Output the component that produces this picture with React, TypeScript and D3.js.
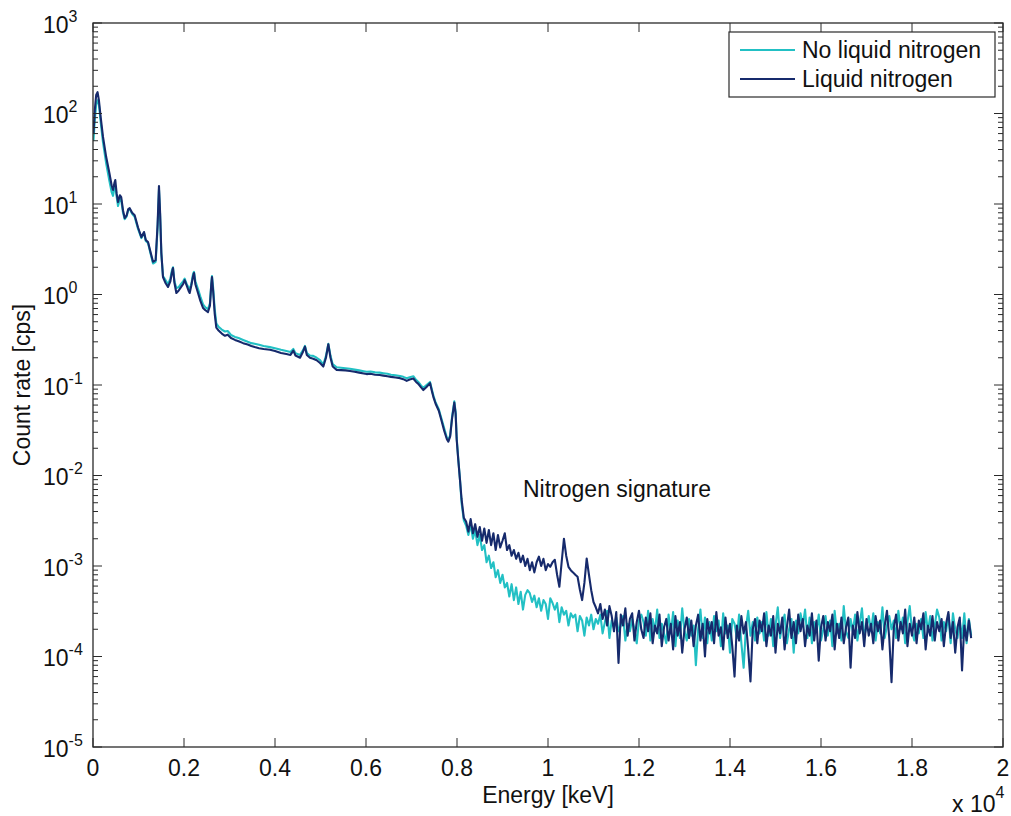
import React, { useEffect, useRef } from "react";
import * as d3 from "d3";

// energy channels [keV] shared by both spectra
const energy = [
  10, 40, 70, 100, 130, 170, 220, 290, 360, 410,
  440, 470, 490, 520, 550, 590, 620, 660, 697, 740,
  775, 806, 860, 916, 990, 1063, 1121, 1160, 1209, 1260,
  1319, 1377, 1420, 1450, 1475, 1502, 1538, 1590, 1648, 1700,
  1735, 1758, 1790, 1832, 1880, 1930, 1980, 2015, 2060, 2100,
  2125, 2160, 2200, 2220, 2250, 2308, 2360, 2418, 2470, 2527,
  2570, 2600, 2615, 2640, 2674, 2710, 2760, 2830, 2900, 2960,
  3033, 3120, 3200, 3300, 3400, 3480, 3553, 3650, 3750, 3890,
  4000, 4132, 4250, 4340, 4403, 4450, 4550, 4610, 4659, 4700,
  4769, 4840, 4916, 4990, 5062, 5120, 5172, 5220, 5268, 5355,
  5450, 5550, 5648, 5750, 5850, 5950, 6015, 6100, 6200, 6300,
  6381, 6470, 6550, 6650, 6747, 6820, 6894, 6960, 7040, 7100,
  7150, 7210, 7260, 7330, 7407, 7450, 7480, 7530, 7600, 7650,
  7720, 7780, 7810, 7850, 7890, 7941, 7970, 7993, 8030, 8066,
  8100, 8150, 8200, 8250, 8300, 8350, 8400, 8450, 8500, 8550,
  8600, 8650, 8700, 8750, 8800, 8850, 8900, 8950, 9000, 9050,
  9100, 9150, 9200, 9250, 9300, 9350, 9400, 9450, 9500, 9550,
  9600, 9650, 9700, 9750, 9800, 9850, 9900, 9950, 10000, 10050,
  10100, 10150, 10200, 10250, 10300, 10350, 10400, 10450, 10500, 10550,
  10600, 10650, 10700, 10750, 10800, 10850, 10900, 10950, 11000, 11050,
  11100, 11150, 11200, 11250, 11300, 11350, 11400, 11450, 11500, 11550,
  11600, 11650, 11700, 11750, 11800, 11850, 11900, 11950, 12000, 12050,
  12100, 12150, 12200, 12250, 12300, 12350, 12400, 12450, 12500, 12550,
  12600, 12650, 12700, 12750, 12800, 12850, 12900, 12950, 13000, 13050,
  13100, 13150, 13200, 13250, 13300, 13350, 13400, 13450, 13500, 13550,
  13600, 13650, 13700, 13750, 13800, 13850, 13900, 13950, 14000, 14050,
  14100, 14150, 14200, 14250, 14300, 14350, 14400, 14450, 14500, 14550,
  14600, 14650, 14700, 14750, 14800, 14850, 14900, 14950, 15000, 15050,
  15100, 15150, 15200, 15250, 15300, 15350, 15400, 15450, 15500, 15550,
  15600, 15650, 15700, 15750, 15800, 15850, 15900, 15950, 16000, 16050,
  16100, 16150, 16200, 16250, 16300, 16350, 16400, 16450, 16500, 16550,
  16600, 16650, 16700, 16750, 16800, 16850, 16900, 16950, 17000, 17050,
  17100, 17150, 17200, 17250, 17300, 17350, 17400, 17450, 17500, 17550,
  17600, 17650, 17700, 17750, 17800, 17850, 17900, 17950, 18000, 18050,
  18100, 18150, 18200, 18250, 18300, 18350, 18400, 18450, 18500, 18550,
  18600, 18650, 18700, 18750, 18800, 18850, 18900, 18950, 19000, 19050,
  19100, 19150, 19200, 19250, 19300,
];

// count rate [cps] without liquid nitrogen
const rateNoLN2 = [
  50, 85, 125, 140, 125, 80, 48, 28, 18, 13.5,
  12.3, 15, 16, 12, 9.5, 11.5, 11, 8, 6.8, 7.3,
  8.6, 8.8, 7.8, 7.2, 5.3, 4.2, 4.8, 3.9, 3.7, 2.9,
  2.2, 2.3, 5.5, 14.5, 7.5, 2.8, 1.6, 1.45, 1.3, 1.5,
  1.85, 2.0, 1.4, 1.18, 1.2, 1.3, 1.4, 1.5, 1.3, 1.2,
  1.15, 1.3, 1.7, 1.78, 1.4, 1.15, 0.95, 0.78, 0.72, 0.69,
  0.8, 1.3, 1.6, 1.2, 0.7, 0.48, 0.44, 0.41, 0.39, 0.395,
  0.357, 0.34, 0.33, 0.315, 0.3, 0.29, 0.285, 0.278, 0.27, 0.262,
  0.255, 0.245, 0.238, 0.232, 0.25, 0.225, 0.215, 0.24, 0.27, 0.225,
  0.212, 0.21, 0.2, 0.188, 0.168, 0.21, 0.285, 0.21, 0.17, 0.157,
  0.155, 0.153, 0.151, 0.148, 0.145, 0.142, 0.14, 0.141, 0.138, 0.137,
  0.135, 0.133, 0.13, 0.128, 0.126, 0.123, 0.119, 0.122, 0.125, 0.114,
  0.108, 0.099, 0.093, 0.1, 0.108, 0.088, 0.077, 0.064, 0.054, 0.044,
  0.033, 0.026, 0.0245, 0.028, 0.044, 0.066, 0.05, 0.026, 0.0148, 0.009,
  5.0e-3, 3.2e-3, 2.8e-3, 2.2e-3, 2.9e-3, 2.0e-3, 2.5e-3, 1.7e-3, 2.2e-3, 1.5e-3,
  1.7e-3, 1.1e-3, 1.3e-3, 9.5e-4, 1.1e-3, 7.5e-4, 9.0e-4, 6.5e-4, 8.0e-4, 5.8e-4,
  6.5e-4, 4.6e-4, 6.3e-4, 4.2e-4, 5.8e-4, 3.8e-4, 5.2e-4, 3.3e-4, 4.8e-4, 5.4e-4,
  5.0e-4, 4.0e-4, 4.7e-4, 3.5e-4, 4.4e-4, 3.2e-4, 4.2e-4, 3.8e-4, 2.6e-4, 4.4e-4,
  3.9e-4, 3.3e-4, 3.9e-4, 2.4e-4, 3.5e-4, 2.9e-4, 3.2e-4, 2.2e-4, 3.0e-4, 2.7e-4,
  2.9e-4, 1.9e-4, 2.8e-4, 2.5e-4, 1.7e-4, 2.7e-4, 2.2e-4, 2.9e-4, 2.0e-4, 2.6e-4,
  2.3e-4, 2.9e-4, 1.8e-4, 2.4e-4, 3.2e-4, 1.6e-4, 2.5e-4, 2.1e-4, 2.7e-4, 1.9e-4,
  2.2e-4, 2.8e-4, 1.5e-4, 2.3e-4, 1.9e-4, 2.6e-4, 2.0e-4, 1.4e-4, 2.5e-4, 2.9e-4,
  2.4e-4, 1.7e-4, 3.2e-4, 1.5e-4, 2.6e-4, 1.9e-4, 3.3e-4, 1.6e-4, 2.3e-4, 1.8e-4,
  1.4e-4, 2.9e-4, 1.8e-4, 3.1e-4, 1.3e-4, 2.5e-4, 1.6e-4, 3.4e-4, 1.9e-4, 1.5e-4,
  2.6e-4, 1.7e-4, 2.2e-4, 8.0e-5, 2.0e-4, 3.3e-4, 1.6e-4, 2.7e-4, 1.4e-4, 2.4e-4,
  1.5e-4, 2.8e-4, 1.9e-4, 2.5e-4, 1.3e-4, 3.0e-4, 1.8e-4, 2.2e-4, 1.1e-4, 2.6e-4,
  2.3e-4, 1.6e-4, 2.9e-4, 1.4e-4, 7.5e-5, 2.1e-4, 3.2e-4, 1.7e-4, 2.4e-4, 1.5e-4,
  2.7e-4, 1.8e-4, 2.4e-4, 1.5e-4, 3.1e-4, 1.7e-4, 2.6e-4, 1.3e-4, 2.2e-4, 3.5e-4,
  1.6e-4, 2.3e-4, 2.9e-4, 1.4e-4, 2.0e-4, 2.6e-4, 1.1e-4, 2.5e-4, 1.8e-4, 3.0e-4,
  2.2e-4, 3.3e-4, 1.6e-4, 2.7e-4, 1.4e-4, 2.4e-4, 1.9e-4, 2.9e-4, 1.5e-4, 2.0e-4,
  2.8e-4, 1.7e-4, 2.5e-4, 1.3e-4, 3.2e-4, 1.8e-4, 2.3e-4, 1.5e-4, 3.6e-4, 1.9e-4,
  1.6e-4, 2.6e-4, 1.9e-4, 2.9e-4, 1.5e-4, 2.3e-4, 3.4e-4, 1.7e-4, 2.1e-4, 2.8e-4,
  1.9e-4, 3.0e-4, 1.5e-4, 2.4e-4, 1.8e-4, 3.5e-4, 1.6e-4, 2.2e-4, 2.8e-4, 2.0e-4,
  2.5e-4, 1.6e-4, 3.2e-4, 2.0e-4, 2.7e-4, 1.4e-4, 2.4e-4, 3.6e-4, 1.9e-4, 1.5e-4,
  2.3e-4, 1.8e-4, 2.6e-4, 1.6e-4, 3.1e-4, 1.9e-4, 2.8e-4, 1.5e-4, 2.2e-4, 3.3e-4,
  2.7e-4, 1.5e-4, 2.4e-4, 1.9e-4, 2.9e-4, 1.4e-4, 3.0e-4, 2.0e-4, 1.6e-4, 2.5e-4,
  1.6e-4, 3.0e-4, 1.4e-4, 2.6e-4, 1.7e-4,
];

// count rate [cps] with liquid nitrogen
const rateLN2 = [
  60, 110, 160, 172, 140, 90, 55, 33, 22, 16,
  14.3, 17, 18.4, 13, 10.5, 12.5, 11.9, 8.5, 7.0, 7.5,
  8.8, 9.0, 8.0, 7.5, 5.5, 4.3, 4.9, 4.0, 3.8, 3.0,
  2.3, 2.4, 6, 15.8, 8, 2.9, 1.56, 1.35, 1.21, 1.4,
  1.75, 1.96, 1.35, 1.04, 1.1, 1.2, 1.3, 1.44, 1.25, 1.1,
  1.04, 1.25, 1.6, 1.73, 1.3, 1.04, 0.85, 0.71, 0.67, 0.64,
  0.75, 1.3, 1.56, 1.1, 0.62, 0.43, 0.4, 0.37, 0.35, 0.36,
  0.33, 0.315, 0.305, 0.29, 0.28, 0.27, 0.263, 0.255, 0.25, 0.245,
  0.238, 0.226, 0.22, 0.215, 0.24, 0.212, 0.2, 0.23, 0.265, 0.215,
  0.2, 0.195, 0.188, 0.175, 0.16, 0.2, 0.282, 0.2, 0.16, 0.147,
  0.146, 0.145, 0.143, 0.14, 0.137, 0.134, 0.132, 0.133, 0.13, 0.129,
  0.127, 0.125, 0.123, 0.121, 0.119, 0.116, 0.111, 0.115, 0.118, 0.108,
  0.103, 0.094, 0.088, 0.095, 0.105, 0.085, 0.074, 0.062, 0.052, 0.042,
  0.031, 0.025, 0.0237, 0.027, 0.042, 0.064, 0.048, 0.025, 0.0145, 0.0089,
  5.5e-3, 3.4e-3, 3.1e-3, 2.4e-3, 3.3e-3, 2.3e-3, 2.9e-3, 2.1e-3, 2.7e-3, 1.9e-3,
  2.6e-3, 1.8e-3, 2.5e-3, 1.7e-3, 2.3e-3, 1.5e-3, 2.2e-3, 1.6e-3, 1.9e-3, 2.3e-3,
  1.5e-3, 1.7e-3, 1.3e-3, 1.5e-3, 1.2e-3, 1.4e-3, 1.1e-3, 1.3e-3, 1.0e-3, 1.2e-3,
  9.0e-4, 1.1e-3, 8.5e-4, 1.1e-3, 1.27e-3, 1.0e-3, 1.2e-3, 9.0e-4, 1.05e-3, 9.8e-4,
  1.1e-3, 1.17e-3, 8.0e-4, 5.9e-4, 1.1e-3, 2.0e-3, 1.3e-3, 9.8e-4, 9.0e-4, 8.5e-4,
  8.0e-4, 7.6e-4, 5.5e-4, 4.2e-4, 6.5e-4, 1.21e-3, 8.0e-4, 5.4e-4, 4.0e-4, 3.5e-4,
  3.0e-4, 3.8e-4, 2.6e-4, 3.3e-4, 2.2e-4, 3.6e-4, 2.8e-4, 1.9e-4, 3.1e-4, 8.5e-5,
  2.9e-4, 2.2e-4, 3.4e-4, 1.7e-4, 2.6e-4, 3.0e-4, 1.5e-4, 2.4e-4, 3.2e-4, 2.0e-4,
  1.6e-4, 2.7e-4, 1.9e-4, 3.0e-4, 1.4e-4, 2.2e-4, 1.8e-4, 2.9e-4, 1.3e-4, 2.1e-4,
  2.6e-4, 1.5e-4, 2.3e-4, 1.2e-4, 2.8e-4, 1.7e-4, 2.4e-4, 1.1e-4, 2.0e-4, 2.7e-4,
  1.6e-4, 2.5e-4, 1.3e-4, 2.2e-4, 2.9e-4, 1.5e-4, 2.3e-4, 1.0e-4, 2.6e-4, 1.8e-4,
  2.4e-4, 1.4e-4, 3.1e-4, 1.7e-4, 2.1e-4, 1.2e-4, 2.7e-4, 1.6e-4, 2.3e-4, 1.3e-4,
  6.0e-5, 2.2e-4, 1.5e-4, 2.8e-4, 1.8e-4, 2.4e-4, 1.2e-4, 5.3e-5, 2.0e-4, 2.6e-4,
  1.4e-4, 2.5e-4, 1.9e-4, 3.0e-4, 1.3e-4, 2.2e-4, 1.7e-4, 2.8e-4, 1.1e-4, 2.3e-4,
  1.8e-4, 2.7e-4, 1.2e-4, 2.1e-4, 3.3e-4, 1.6e-4, 2.4e-4, 1.4e-4, 2.9e-4, 1.9e-4,
  2.6e-4, 1.3e-4, 2.2e-4, 1.7e-4, 3.0e-4, 1.5e-4, 2.5e-4, 9.0e-5, 2.1e-4, 2.8e-4,
  1.5e-4, 2.4e-4, 1.9e-4, 2.9e-4, 1.2e-4, 2.3e-4, 1.6e-4, 2.7e-4, 1.4e-4, 2.1e-4,
  2.7e-4, 7.5e-5, 2.2e-4, 1.6e-4, 3.1e-4, 1.8e-4, 2.4e-4, 1.3e-4, 2.6e-4, 1.7e-4,
  2.3e-4, 1.4e-4, 2.8e-4, 1.9e-4, 2.5e-4, 1.2e-4, 2.2e-4, 3.2e-4, 1.6e-4, 5.2e-5,
  2.1e-4, 2.9e-4, 1.5e-4, 2.4e-4, 1.8e-4, 3.3e-4, 1.3e-4, 2.3e-4, 1.7e-4, 2.7e-4,
  1.4e-4, 2.5e-4, 2.0e-4, 3.0e-4, 1.2e-4, 2.2e-4, 1.7e-4, 2.8e-4, 1.5e-4, 2.4e-4,
  1.9e-4, 2.6e-4, 1.3e-4, 2.3e-4, 3.1e-4, 1.6e-4, 2.4e-4, 1.1e-4, 2.1e-4, 2.7e-4,
  7.0e-5, 2.2e-4, 1.5e-4, 2.5e-4, 1.6e-4,
];

const seriesNames = ["No liquid nitrogen", "Liquid nitrogen"];
const seriesColors = ["#22c0c4", "#162a6c"];

const xTickValues = [0, 2000, 4000, 6000, 8000, 10000, 12000, 14000, 16000, 18000, 20000];
const xTickLabels = ["0", "0.2", "0.4", "0.6", "0.8", "1", "1.2", "1.4", "1.6", "1.8", "2"];
const yExponents = [-5, -4, -3, -2, -1, 0, 1, 2, 3];

const annotation = "Nitrogen signature";

export default function App() {
  const ref = useRef<SVGSVGElement>(null);

  useEffect(() => {
    document.body.style.margin = "0";
    const svg = d3.select(ref.current);
    svg.selectAll("*").remove();

    const left = 93, right = 1003, top = 23, bottom = 747;
    const font = "'Liberation Sans', Arial, Helvetica, sans-serif";
    const axisColor = "#2a2a2a";

    const x = d3.scaleLinear().domain([0, 20000]).range([left, right]);
    const y = d3.scaleLog().domain([1e-5, 1e3]).range([bottom, top]);

    svg.append("rect").attr("width", 1011).attr("height", 816).attr("fill", "#fff");

    svg.append("clipPath").attr("id", "plotClip")
      .append("rect").attr("x", left).attr("y", top)
      .attr("width", right - left).attr("height", bottom - top);

    // spectra (cyan first, navy on top)
    const series = [rateNoLN2, rateLN2];
    const n = Math.min(energy.length, rateNoLN2.length, rateLN2.length);
    const line = d3.line<number>()
      .x((_, i) => x(energy[i]))
      .y(d => y(d));
    series.forEach((vals, s) => {
      svg.append("path")
        .attr("clip-path", "url(#plotClip)")
        .attr("d", line(vals.slice(0, n)))
        .attr("fill", "none")
        .attr("stroke", seriesColors[s])
        .attr("stroke-width", 2.1)
        .attr("stroke-linejoin", "round");
    });

    // axes box
    svg.append("rect")
      .attr("x", left).attr("y", top)
      .attr("width", right - left).attr("height", bottom - top)
      .attr("fill", "none").attr("stroke", axisColor).attr("stroke-width", 1.3);

    const ticks = svg.append("g").attr("stroke", axisColor).attr("stroke-width", 1);

    // x ticks bottom & top
    xTickValues.forEach(v => {
      const px = x(v);
      ticks.append("line").attr("x1", px).attr("x2", px).attr("y1", bottom).attr("y2", bottom - 9);
      ticks.append("line").attr("x1", px).attr("x2", px).attr("y1", top).attr("y2", top + 9);
    });

    // y ticks left & right (major + minor)
    yExponents.forEach(e => {
      const py = y(Math.pow(10, e));
      ticks.append("line").attr("x1", left).attr("x2", left + 9).attr("y1", py).attr("y2", py);
      ticks.append("line").attr("x1", right).attr("x2", right - 9).attr("y1", py).attr("y2", py);
      if (e < 3) {
        for (let m = 2; m <= 9; m++) {
          const pm = y(m * Math.pow(10, e));
          ticks.append("line").attr("x1", left).attr("x2", left + 5).attr("y1", pm).attr("y2", pm);
          ticks.append("line").attr("x1", right).attr("x2", right - 5).attr("y1", pm).attr("y2", pm);
        }
      }
    });

    // x tick labels
    xTickValues.forEach((v, i) => {
      svg.append("text")
        .attr("x", x(v)).attr("y", 776)
        .attr("text-anchor", "middle")
        .attr("font-family", font).attr("font-size", 23).attr("fill", "#111")
        .text(xTickLabels[i]);
    });

    // x10^4 multiplier
    const mult = svg.append("text")
      .attr("x", 952).attr("y", 812)
      .attr("font-family", font).attr("font-size", 23).attr("fill", "#111");
    mult.append("tspan").text("x 10");
    mult.append("tspan").attr("font-size", 16).attr("dy", -14).text("4");

    // y tick labels 10^e
    yExponents.forEach(e => {
      const py = y(Math.pow(10, e));
      const t = svg.append("text")
        .attr("x", 43).attr("y", py + 9.5)
        .attr("font-family", font).attr("font-size", 23).attr("fill", "#111");
      t.append("tspan").text("10");
      t.append("tspan").attr("font-size", 16).attr("dy", -11).text(String(e));
    });

    // axis labels
    svg.append("text")
      .attr("x", (left + right) / 2).attr("y", 803)
      .attr("text-anchor", "middle")
      .attr("font-family", font).attr("font-size", 23).attr("fill", "#111")
      .text("Energy [keV]");
    svg.append("text")
      .attr("transform", `translate(30, ${(top + bottom) / 2}) rotate(-90)`)
      .attr("text-anchor", "middle")
      .attr("font-family", font).attr("font-size", 23).attr("fill", "#111")
      .text("Count rate [cps]");

    // annotation
    svg.append("text")
      .attr("x", 523).attr("y", 497)
      .attr("font-family", font).attr("font-size", 23).attr("fill", "#111")
      .text(annotation);

    // legend
    const lg = svg.append("g");
    lg.append("rect")
      .attr("x", 729).attr("y", 32).attr("width", 266).attr("height", 65)
      .attr("fill", "#fff").attr("stroke", axisColor).attr("stroke-width", 1.2);
    seriesNames.forEach((name, i) => {
      const ly = 50 + i * 29;
      lg.append("line")
        .attr("x1", 740).attr("x2", 795).attr("y1", ly).attr("y2", ly)
        .attr("stroke", seriesColors[i]).attr("stroke-width", 1.8);
      lg.append("text")
        .attr("x", 802).attr("y", ly + 8)
        .attr("font-family", font).attr("font-size", 23).attr("fill", "#111")
        .text(name);
    });
  }, []);

  return <svg ref={ref} width={1011} height={816} style={{ display: "block" }} />;
}
